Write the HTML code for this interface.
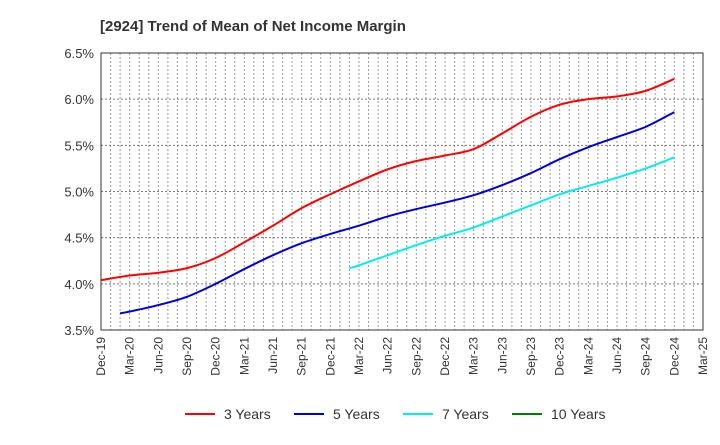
<!DOCTYPE html>
<html><head><meta charset="utf-8"><style>
body{margin:0;background:#fff;font-family:"Liberation Sans",Arial,sans-serif;}
</style></head><body>
<svg id="chart" width="720" height="440" xmlns="http://www.w3.org/2000/svg">
<text x="100" y="31" font-size="15" font-weight="bold" fill="#333">[2924]  Trend of Mean of Net Income Margin</text>
<g id="grid"></g><g id="axes"></g><g id="series"></g><g id="legend"></g>
</svg>
<script>
const xLabels=["Dec-19","Mar-20","Jun-20","Sep-20","Dec-20","Mar-21","Jun-21","Sep-21","Dec-21","Mar-22","Jun-22","Sep-22","Dec-22","Mar-23","Jun-23","Sep-23","Dec-23","Mar-24","Jun-24","Sep-24","Dec-24","Mar-25"];
const yTicks=[3.5,4.0,4.5,5.0,5.5,6.0,6.5];
const seriesNames=["3 Years","5 Years","7 Years","10 Years"];
const seriesColors=["#ff0000","#0000dd","#00eeee","#008000"];
// month offsets from Dec-19
const m3=[0,3,6,9,12,15,18,21,24,27,30,33,36,39,42,45,48,51,54,57,60];
const s3=[4.04,4.09,4.12,4.17,4.28,4.45,4.63,4.82,4.97,5.11,5.24,5.33,5.39,5.46,5.63,5.81,5.94,6.00,6.03,6.09,6.22];
const m5=[2,3,6,9,12,15,18,21,24,27,30,33,36,39,42,45,48,51,54,57,60];
const s5=[3.68,3.70,3.77,3.86,4.00,4.16,4.31,4.44,4.54,4.63,4.73,4.81,4.88,4.96,5.07,5.20,5.35,5.48,5.59,5.70,5.86];
const m7=[26,27,30,33,36,39,42,45,48,51,54,57,60];
const s7=[4.17,4.20,4.31,4.42,4.52,4.61,4.73,4.85,4.97,5.06,5.15,5.25,5.37];
const m10=[];
const s10=[];
const L=101,R=703,T=53,B=330;
const NS="http://www.w3.org/2000/svg";
const xq=i=>L+(R-L)*i/(xLabels.length-1);
const xm=m=>L+(R-L)*m/((xLabels.length-1)*3);
const y=v=>B-(v-3.5)/(6.5-3.5)*(B-T);
function mk(tag,attrs,parent){const e=document.createElementNS(NS,tag);for(const k in attrs)e.setAttribute(k,attrs[k]);parent.appendChild(e);return e;}
const grid=document.getElementById('grid'),axes=document.getElementById('axes'),ser=document.getElementById('series'),leg=document.getElementById('legend');
for(let m=1;m<(xLabels.length-1)*3;m++){const l=mk('line',{x1:xm(m),x2:xm(m),y1:T,y2:B,stroke:'#999','stroke-dasharray':'2,2','stroke-width':1},grid);

}
yTicks.forEach(v=>{const l=mk('line',{x1:L,x2:R,y1:y(v),y2:y(v),stroke:'#777','stroke-dasharray':'2,2','stroke-width':1},grid);


const t=mk('text',{x:L-7,y:y(v)+5,'text-anchor':'end','font-size':13,fill:'#333'},axes);t.textContent=v.toFixed(1)+'%';

});
const fr=mk('rect',{x:L,y:T,width:R-L,height:B-T,fill:'none',stroke:'#333','stroke-width':1},axes);


xLabels.forEach((s,i)=>{const t=mk('text',{x:0,y:0,'text-anchor':'end','font-size':12,fill:'#333',transform:`translate(${xq(i)+4},${B+7}) rotate(-90)`},axes);t.textContent=s;

});
function path(pts){if(pts.length<2)return '';let d=`M${pts[0][0]},${pts[0][1]}`;for(let i=0;i<pts.length-1;i++){const p0=pts[i-1]||pts[i],p1=pts[i],p2=pts[i+1],p3=pts[i+2]||p2;
d+=` C${p1[0]+(p2[0]-p0[0])/6},${p1[1]+(p2[1]-p0[1])/6} ${p2[0]-(p3[0]-p1[0])/6},${p2[1]-(p3[1]-p1[1])/6} ${p2[0]},${p2[1]}`;}return d;}
[[m3,s3],[m5,s5],[m7,s7],[m10,s10]].forEach(([ms,s],k)=>{const pts=s.map((v,i)=>[xm(ms[i]),y(v)]);
if(pts.length>1){const p=mk('path',{d:path(pts),fill:'none',stroke:seriesColors[k],'stroke-width':2},ser);

}});
const lx=[185,294,403,512];
seriesNames.forEach((n,k)=>{const g=mk('g',{},leg);


mk('line',{x1:lx[k],x2:lx[k]+30,y1:414,y2:414,stroke:seriesColors[k],'stroke-width':2},g);
const t=mk('text',{x:lx[k]+39,y:419,'font-size':14,fill:'#333'},g);t.textContent=n;});
</script>
</body></html>
